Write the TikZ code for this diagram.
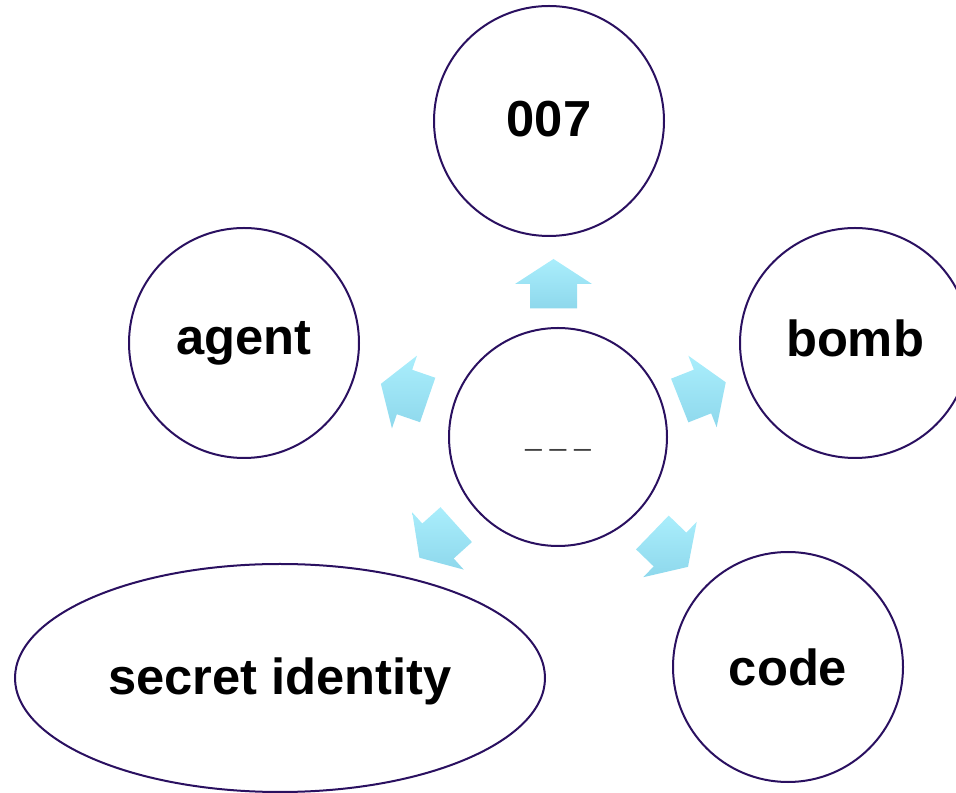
\documentclass[tikz,border=0pt]{standalone}
\usepackage{fontspec}
\setmainfont{Liberation Sans}
\usetikzlibrary{shapes.geometric}
\definecolor{ring}{HTML}{2A1060}
\definecolor{arrtop}{HTML}{AAEEFC}
\definecolor{arrbot}{HTML}{8ED8EC}
\definecolor{blank}{HTML}{404040}
\tikzset{
  bubble/.style={circle, draw=ring, line width=1.5pt, fill=white, inner sep=0pt, minimum size=172.5pt},
  oval/.style={ellipse, draw=ring, line width=1.5pt, fill=white, inner sep=0pt, minimum width=397.5pt, minimum height=171pt},
  hub/.style={circle, draw=ring, line width=1.5pt, fill=white, inner sep=0pt, minimum size=163.5pt},
  lbl/.style={font=\fontsize{38}{45}\selectfont\bfseries, text=black, inner sep=0pt},
  blockarr/.style={top color=arrtop, bottom color=arrbot, draw=none}
}
\newcommand{\myblockarrow}[4]{%
  \begin{scope}[shift={(#1,#2)}, rotate=#3]
    \path[blockarr] (-24.5,-23.5) -- (0,-23.5) -- (0,-38.5) -- (25,0) -- (0,38.5) -- (0,23.5) -- (-24.5,23.5) -- cycle;
    \coordinate (#4) at (0,0);
  \end{scope}}
\begin{document}
\begin{tikzpicture}[x=0.75pt, y=0.75pt]
  \useasboundingbox (0,0) rectangle (956,792);
  \node[hub] (c) at (558,355) {};
  \node[font=\fontsize{22}{26}\selectfont, text=blank, anchor=base] (ctext) at (558,346) {\_\ \_\ \_};
  \node[bubble] (n007) at (549,671) {};
  \node[bubble] (agent) at (244,449) {};
  \node[bubble] (bomb) at (855,449) {};
  \node[bubble] (code) at (788,125) {};
  \node[oval] (secret) at (280,114) {};
  \node[lbl, anchor=base] (t007) at (549,655) {007};
  \node[lbl, anchor=base] (tagent) at (244,437) {agent};
  \node[lbl, anchor=base] (tbomb) at (855,435) {bomb};
  \node[lbl, anchor=base] (tcode) at (788,106) {code};
  \node[lbl, anchor=base] (tsecret) at (280,97) {secret identity};
  \myblockarrow{553.5}{508}{90}{a1}
  \myblockarrow{404.5}{400}{161}{a2}
  \myblockarrow{702.5}{400.5}{21.6}{a3}
  \myblockarrow{438}{251}{222}{a4}
  \myblockarrow{670}{242.5}{-44}{a5}
\end{tikzpicture}
\end{document}
